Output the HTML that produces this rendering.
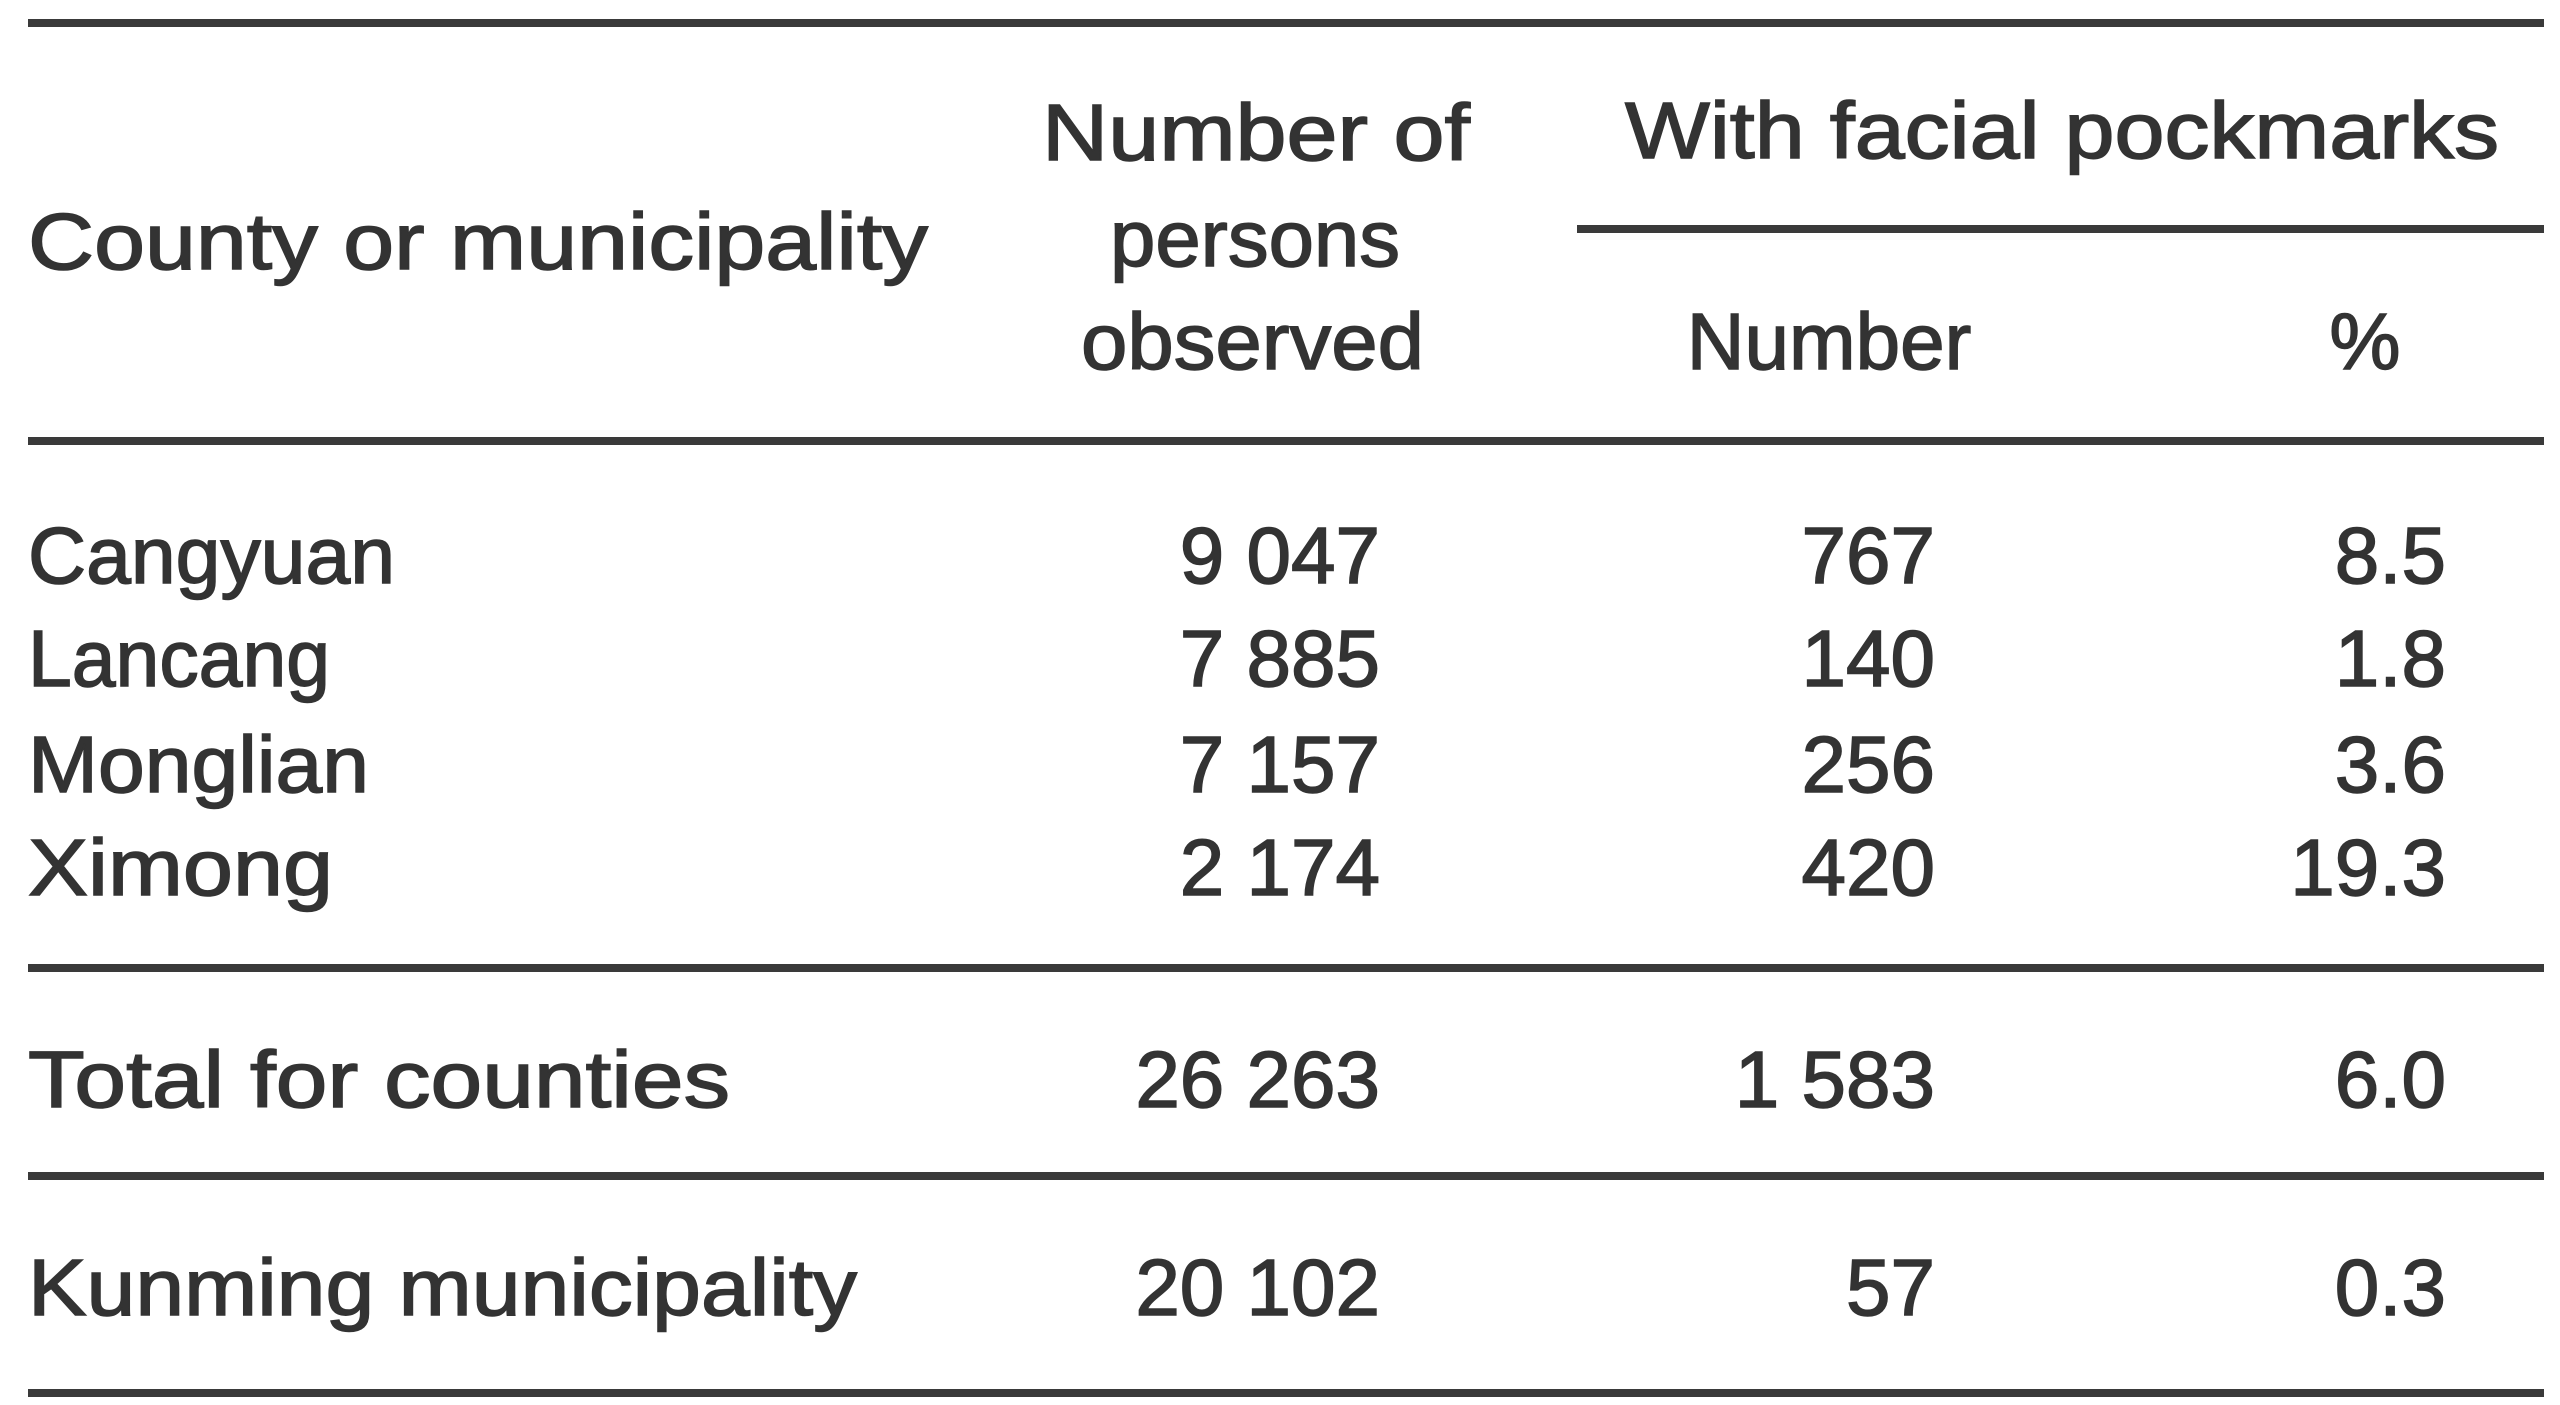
<!DOCTYPE html>
<html><head><meta charset="utf-8"><style>
html,body{margin:0;padding:0;background:#fff;}
svg{display:block;}
text{font-family:"Liberation Sans",sans-serif;font-size:80px;fill:#333;stroke:#333;stroke-width:1.5px;}
</style></head><body>
<svg width="2560" height="1405" viewBox="0 0 2560 1405">
<g stroke="#3a3a3a" stroke-width="8">
<line x1="28" y1="23" x2="2544" y2="23"/>
<line x1="1577" y1="229" x2="2544" y2="229"/>
<line x1="28" y1="441" x2="2544" y2="441"/>
<line x1="28" y1="968" x2="2544" y2="968"/>
<line x1="28" y1="1176" x2="2544" y2="1176"/>
<line x1="28" y1="1393" x2="2544" y2="1393"/>
</g>
<text x="28" y="269" textLength="900" lengthAdjust="spacingAndGlyphs">County or municipality</text>
<text x="1042" y="160" textLength="428" lengthAdjust="spacingAndGlyphs">Number of</text>
<text x="1110" y="266" textLength="290" lengthAdjust="spacingAndGlyphs">persons</text>
<text x="1081" y="369" textLength="343" lengthAdjust="spacingAndGlyphs">observed</text>
<text x="1625" y="158" textLength="874" lengthAdjust="spacingAndGlyphs">With facial pockmarks</text>
<text x="1829" y="369" text-anchor="middle">Number</text>
<text x="2365" y="369" text-anchor="middle">%</text>

<text x="28" y="583" textLength="367" lengthAdjust="spacingAndGlyphs">Cangyuan</text>
<text x="28" y="686" textLength="302" lengthAdjust="spacingAndGlyphs">Lancang</text>
<text x="28" y="792" textLength="341" lengthAdjust="spacingAndGlyphs">Monglian</text>
<text x="28" y="895" textLength="305" lengthAdjust="spacingAndGlyphs">Ximong</text>
<text x="28" y="1107" textLength="702" lengthAdjust="spacingAndGlyphs">Total for counties</text>
<text x="28" y="1315" textLength="829" lengthAdjust="spacingAndGlyphs">Kunming municipality</text>

<g text-anchor="end">
<text x="1380" y="583">9 047</text>
<text x="1380" y="686">7 885</text>
<text x="1380" y="792">7 157</text>
<text x="1380" y="895">2 174</text>
<text x="1380" y="1107">26 263</text>
<text x="1380" y="1315">20 102</text>
<text x="1935" y="583">767</text>
<text x="1935" y="686">140</text>
<text x="1935" y="792">256</text>
<text x="1935" y="895">420</text>
<text x="1935" y="1107">1 583</text>
<text x="1935" y="1315">57</text>
<text x="2446" y="583">8.5</text>
<text x="2446" y="686">1.8</text>
<text x="2446" y="792">3.6</text>
<text x="2446" y="895">19.3</text>
<text x="2446" y="1107">6.0</text>
<text x="2446" y="1315">0.3</text>
</g>
</svg>
</body></html>
